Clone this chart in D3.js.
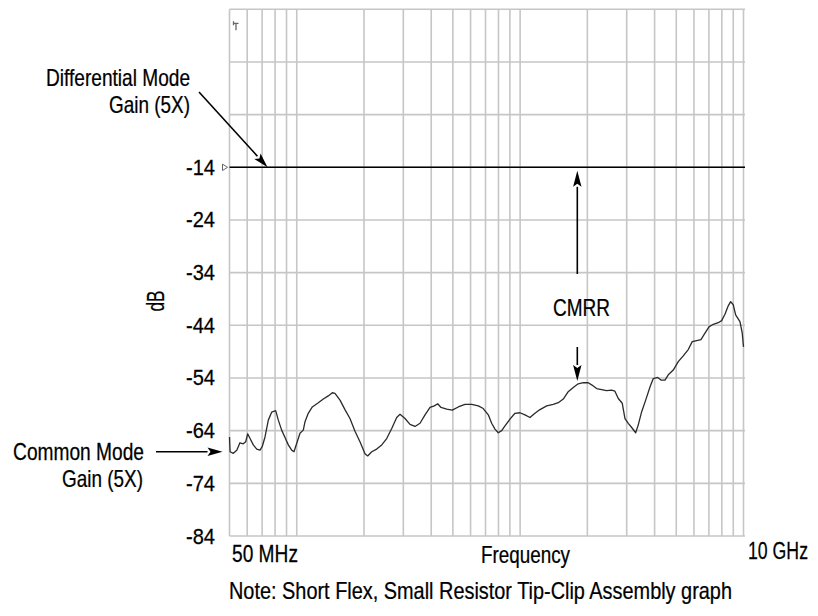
<!DOCTYPE html>
<html><head><meta charset="utf-8">
<script src="https://cdn.jsdelivr.net/npm/d3@7"></script>
<style>
body{margin:0;background:#fff}
svg{display:block}
text{font-family:"Liberation Sans",Arial,Helvetica,sans-serif;fill:#000;stroke:#000;stroke-width:0.25px}
</style>
</head><body>
<svg id="chart" width="818" height="616"></svg>
<script>
// ---- data ----
const freqMHz = [50, 50.3, 52.0, 53.9, 55.7, 57.6, 59.1, 60.3, 61.8, 63.9,
  66.2, 68.5, 70.1, 72.1, 74.6, 77.2, 80.5, 82.7, 85.6, 88.6,
  91.7, 94.9, 97.2, 100, 103.4, 107.0, 108.9, 112.6, 117.4, 124.9,
  131.5, 138.4, 144.3, 148.3, 156.2, 164.4, 173.1, 182.3, 191.9, 202.1,
  207.8, 216.6, 228.0, 240.1, 252.8, 266.2, 280.2, 289.9, 305.3, 321.4,
  338.4, 356.3, 375.2, 395.0, 412.9, 427.6, 442.4, 469.2, 496.9, 528.6,
  566.4, 607.0, 649.7, 684.0, 720.2, 745.9, 771.7, 798.4, 826.9, 855.5,
  900.7, 948.3, 998.5, 1051, 1107, 1165, 1227, 1315, 1407, 1482,
  1560, 1642, 1729, 1820, 1917, 2018, 2090, 2200, 2317, 2439,
  2568, 2657, 2751, 2866, 2947, 3049, 3158, 3291, 3380, 3501,
  3648, 3814, 3945, 4129, 4271, 4451, 4605, 4848, 5104, 5374,
  5658, 5896, 6170, 6450, 6722, 7005, 7322, 7709, 7984, 8260,
  8545, 8760, 8998, 9223, 9641, 9872, 10000];
const commonModeDB = [-65.2, -68.0, -68.3, -67.7, -66.3, -66.5, -66.1, -64.6, -65.5, -66.7,
  -67.5, -67.7, -67.0, -65.2, -62.0, -60.5, -60.2, -62.0, -63.9, -65.3,
  -66.7, -67.7, -68.0, -66.4, -64.5, -63.9, -62.3, -60.7, -59.5, -58.7,
  -58.0, -57.4, -56.8, -56.9, -58.2, -60.0, -61.7, -64.1, -66.1, -68.4,
  -68.8, -68.0, -67.5, -66.7, -65.5, -63.6, -61.5, -60.9, -61.7, -62.8,
  -63.2, -62.6, -61.0, -59.6, -59.3, -58.9, -59.6, -59.9, -60.1, -59.5,
  -59.0, -59.0, -59.3, -59.8, -61.0, -62.6, -63.7, -64.4, -64.0, -63.1,
  -61.8, -60.7, -60.6, -61.0, -61.5, -60.7, -60.0, -59.3, -59.0, -58.7,
  -58.0, -56.6, -55.8, -55.1, -54.9, -54.9, -55.3, -56.0, -56.2, -56.4,
  -56.3, -56.5, -57.9, -58.8, -61.7, -62.6, -63.4, -64.4, -62.9, -60.4,
  -58.2, -55.7, -54.1, -53.9, -54.4, -54.4, -53.4, -52.5, -50.9, -49.8,
  -48.6, -47.1, -46.9, -46.7, -45.5, -44.3, -43.8, -43.5, -43.1, -41.9,
  -40.3, -39.5, -40.1, -42.0, -43.3, -45.5, -48.1];
const diffModeDB = -14;
const xDomainMHz = [50, 10000];
const yDomainDB = [-84, 16];
const gridDB = [16, 6, -4, -14, -24, -34, -44, -54, -64, -74, -84];
const tickDB = [-14, -24, -34, -44, -54, -64, -74, -84];
const xEndLabels = ["50 MHz", "10 GHz"];
const xTitle = "Frequency";
const yTitle = "dB";
const note = "Note: Short Flex, Small Resistor Tip-Clip Assembly graph";
const cmrrFreqMHz = 1803;
const diffArrowFreqMHz = 74;

// ---- layout ----
const svg = d3.select("#chart");
const x = d3.scaleLog().domain(xDomainMHz).range([229.5, 743.5]);
const y = d3.scaleLinear().domain(yDomainDB).range([536, 9.3]);
const gridColor = "#c6c6c6";

// grid
const g = svg.append("g");
g.selectAll("line.v").data(x.ticks()).join("line")
  .attr("x1", d => x(d)).attr("x2", d => x(d))
  .attr("y1", y(yDomainDB[1])).attr("y2", y(yDomainDB[0]))
  .attr("stroke", gridColor).attr("stroke-width", 1.6);
g.selectAll("line.h").data(gridDB).join("line")
  .attr("x1", x(xDomainMHz[0])).attr("x2", x(xDomainMHz[1]) + 1.5)
  .attr("y1", d => y(d)).attr("y2", d => y(d))
  .attr("stroke", gridColor).attr("stroke-width", 1.6);

// small marker top-left
svg.append("path")
  .attr("d", `M${x(50)+4},${y(16)+12} v4 M${x(50)+4},${y(16)+14} h5 M${x(50)+6.5},${y(16)+14} v7`)
  .attr("stroke", "#666").attr("stroke-width", 1.3).attr("fill", "none");

// differential mode reference line
svg.append("line")
  .attr("x1", x(xDomainMHz[0])).attr("x2", x(xDomainMHz[1]) + 1.5)
  .attr("y1", y(diffModeDB)).attr("y2", y(diffModeDB))
  .attr("stroke", "#000").attr("stroke-width", 1.6);

// reference marker triangle
const ty = y(diffModeDB);
svg.append("path")
  .attr("d", `M${x(50)-7},${ty-3.2} L${x(50)-2},${ty} L${x(50)-7},${ty+3.2} Z`)
  .attr("fill", "#fff").attr("stroke", "#666").attr("stroke-width", 1);

// common mode curve
const line = d3.line().x(d => x(d[0])).y(d => y(d[1]));
svg.append("path")
  .datum(freqMHz.map((f, i) => [f, commonModeDB[i]]))
  .attr("d", line)
  .attr("fill", "none").attr("stroke", "#2a2a2a").attr("stroke-width", 1.3)
  .attr("stroke-linejoin", "round");

// condensed text helper: horizontally scale text to a target width
function label(txt, xx, yy, anchor, width, size, rotate) {
  const t = svg.append("text").attr("x", 0).attr("y", 0)
    .attr("text-anchor", anchor).attr("font-size", size || 23)
    .text(txt);
  const natural = t.node().getComputedTextLength() || width;
  const k = width / natural;
  t.attr("transform", `translate(${xx},${yy})` + (rotate ? ` rotate(${rotate})` : "") + ` scale(${k},1)`);
  return t;
}
function arrow(x1, y1, x2, y2, hl, hw) {
  hl = hl || 15; hw = hw || 4.2;
  const a = Math.atan2(y2 - y1, x2 - x1);
  const bx = x2 - hl * Math.cos(a), by = y2 - hl * Math.sin(a);
  svg.append("line").attr("x1", x1).attr("y1", y1).attr("x2", bx).attr("y2", by)
    .attr("stroke", "#000").attr("stroke-width", 1.6);
  const px = -Math.sin(a) * hw, py = Math.cos(a) * hw;
  svg.append("path")
    .attr("d", `M${x2},${y2} L${bx+px},${by+py} L${bx + 3*Math.cos(a)},${by + 3*Math.sin(a)} L${bx-px},${by-py} Z`)
    .attr("fill", "#000");
}

// y tick labels
tickDB.forEach(d => label(String(d), 215, y(d) + 7.5, "end", 29, 22));

// annotations
label("Differential Mode", 190, 86, "end", 144);
label("Gain (5X)", 190, 113, "end", 81);
arrow(199, 92, x(diffArrowFreqMHz), y(diffModeDB));

label("Common Mode", 144, 460, "end", 131);
label("Gain (5X)", 143, 487, "end", 81);
arrow(156, y(commonModeDB[1]), x(50) - 7, y(commonModeDB[1]));

const cx = x(cmrrFreqMHz);
arrow(cx, 274, cx, y(diffModeDB) + 3.5, 16, 4.2);
arrow(cx, 347, cx, 381, 16, 4.2);
label("CMRR", 553, 316, "start", 57);

// axis texts
label(xEndLabels[0], 232, 562, "start", 66);
label(xEndLabels[1], 748, 559, "start", 60);
label(xTitle, 481, 563, "start", 89);
label(note, 229, 599, "start", 503);
label(yTitle, 164, 301, "middle", 21, 23, -90);
</script>
</body></html>
